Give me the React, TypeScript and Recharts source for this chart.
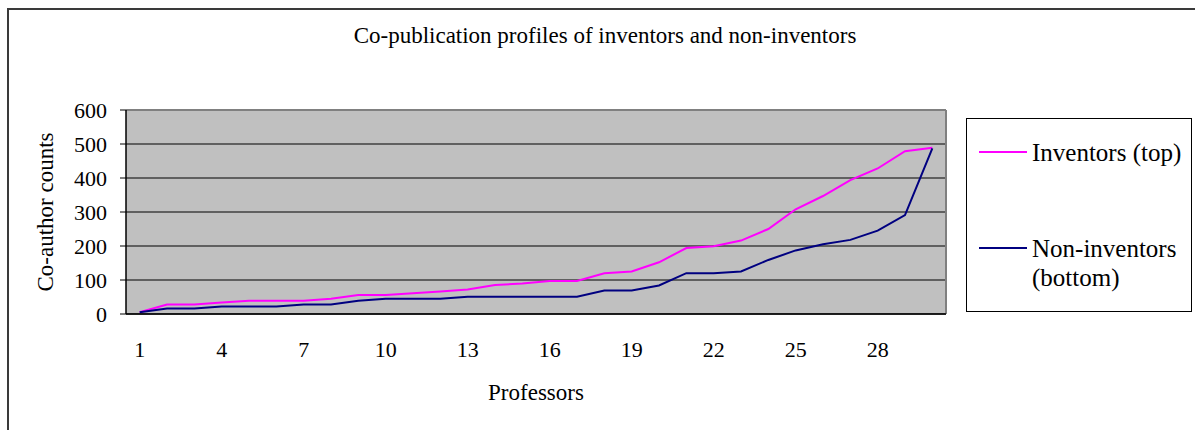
import React from 'react'
import {
  LineChart, Line, XAxis, YAxis, CartesianGrid, Legend, ReferenceLine
} from 'recharts'

const professors = [
  1, 2, 3, 4, 5, 6, 7, 8, 9, 10, 11, 12, 13, 14, 15,
  16, 17, 18, 19, 20, 21, 22, 23, 24, 25, 26, 27, 28, 29, 30,
]
const inventors = [
  5, 28, 28, 34, 39, 39, 39, 45, 56, 56, 61, 66, 72, 85, 90,
  97, 97, 120, 125, 152, 194, 199, 216, 250, 308, 347, 394, 428, 479, 489,
]
const nonInventors = [
  5, 16, 16, 22, 22, 22, 28, 28, 39, 45, 45, 45, 51, 51, 51,
  51, 51, 69, 69, 84, 120, 120, 125, 159, 187, 205, 218, 245, 291, 487,
]
const xLabels = [1, 4, 7, 10, 13, 16, 19, 22, 25, 28]
const xBounds = [
  0.5, 1.5, 2.5, 3.5, 4.5, 5.5, 6.5, 7.5, 8.5, 9.5, 10.5, 11.5, 12.5, 13.5, 14.5, 15.5,
  16.5, 17.5, 18.5, 19.5, 20.5, 21.5, 22.5, 23.5, 24.5, 25.5, 26.5, 27.5, 28.5, 29.5, 30.5,
]
const yTicks = [0, 100, 200, 300, 400, 500, 600]

const TITLE = 'Co-publication profiles of inventors and non-inventors'
const X_TITLE = 'Professors'
const Y_TITLE = 'Co-author counts'

const data = professors.map((p, i) => ({
  professor: p,
  inv: inventors[i],
  non: nonInventors[i],
}))

const SERIF = "'Liberation Serif', 'Times New Roman', serif"

function XTick(props: any) {
  const { x, y, payload } = props
  return (
    <text x={x} y={y} dy={27} textAnchor="middle" style={{ fontFamily: SERIF }} fontSize={22} fill="#000">
      {payload.value}
    </text>
  )
}

function LegendBox(props: any) {
  const items = props.payload ?? []
  return (
    <svg width={227} height={195} style={{ display: 'block', fontFamily: SERIF }}>
      <rect x={0.5} y={0.5} width={225} height={193} fill="#fff" stroke="#000" />
      {items.map((it: any, i: number) => {
        const ly = 34 + i * 96
        const name = String(it.value)
        const cut = name.length > 16 ? name.indexOf(' (') : -1
        const lines = cut > 0 ? [name.slice(0, cut), name.slice(cut + 1)] : [name]
        return (
          <g key={name}>
            <line x1={13} x2={61} y1={ly} y2={ly} stroke={it.color} strokeWidth={2} />
            <text x={66} y={ly + 9} style={{ fontFamily: SERIF }} fontSize={25} fill="#000">
              {lines.map((l, j) => (
                <tspan key={j} x={66} dy={j === 0 ? 0 : 29}>{l}</tspan>
              ))}
            </text>
          </g>
        )
      })}
    </svg>
  )
}

export default function App() {
  return (
    <div style={{ position: 'absolute', left: 0, top: 0, width: 1195, height: 430, background: '#fff', overflow: 'hidden' }}>
      <div style={{
        position: 'absolute', left: 7, top: 8, width: 1300, height: 500,
        borderLeft: '2px solid #3a3a3a', borderTop: '2px solid #3a3a3a',
      }} />
      <div style={{ position: 'absolute', left: 0, top: 0 }}>
        <LineChart width={1195} height={430} data={data} margin={{ top: 110, right: 249, left: 66, bottom: 58 }}>
          <CartesianGrid xAxisId="lab" vertical={false} stroke="#000" fill="#c0c0c0" fillOpacity={1} />
          <XAxis
            xAxisId="b" dataKey="professor" type="number" domain={[0.5, 30.5]} ticks={xBounds}
            height={8} tick={false} tickSize={7} axisLine={{ stroke: '#000', strokeWidth: 1.5 }}
            tickLine={{ stroke: '#000' }}
          />
          <XAxis
            xAxisId="lab" dataKey="professor" type="number" domain={[0.5, 30.5]} ticks={xLabels}
            height={50} axisLine={false} tickLine={false} tick={<XTick />} interval={0}
          />
          <YAxis
            domain={[0, 600]} ticks={yTicks} width={60} tickSize={6} tickMargin={13}
            axisLine={{ stroke: '#000', strokeWidth: 1.5 }} tickLine={{ stroke: '#000' }}
            tick={{ fontFamily: SERIF, fontSize: 22, fill: '#000' }} interval={0}
          />
          <ReferenceLine xAxisId="lab" y={600} stroke="#808080" strokeWidth={2} />
          <ReferenceLine xAxisId="lab" x={30.5} stroke="#808080" strokeWidth={2} />
          <Line xAxisId="lab" dataKey="inv" name="Inventors (top)" stroke="#ff00ff" strokeWidth={2} dot={false} isAnimationActive={false} />
          <Line xAxisId="lab" dataKey="non" name="Non-inventors (bottom)" stroke="#000080" strokeWidth={2} dot={false} isAnimationActive={false} />
          <Legend
            layout="horizontal" align="center" verticalAlign="middle" content={<LegendBox />}
            wrapperStyle={{ position: 'absolute', left: 966, top: 118, width: 227, height: 195 }}
          />
        </LineChart>
      </div>
      <svg width={1195} height={430} style={{ position: 'absolute', left: 0, top: 0, pointerEvents: 'none', fontFamily: SERIF }}>
        <text x={605} y={43} textAnchor="middle" fontSize={23} fill="#000">{TITLE}</text>
        <text x={536} y={400} textAnchor="middle" fontSize={23} fill="#000">{X_TITLE}</text>
        <text x={53} y={212} textAnchor="middle" fontSize={23} fill="#000" transform="rotate(-90 53 212)">{Y_TITLE}</text>
      </svg>
    </div>
  )
}
